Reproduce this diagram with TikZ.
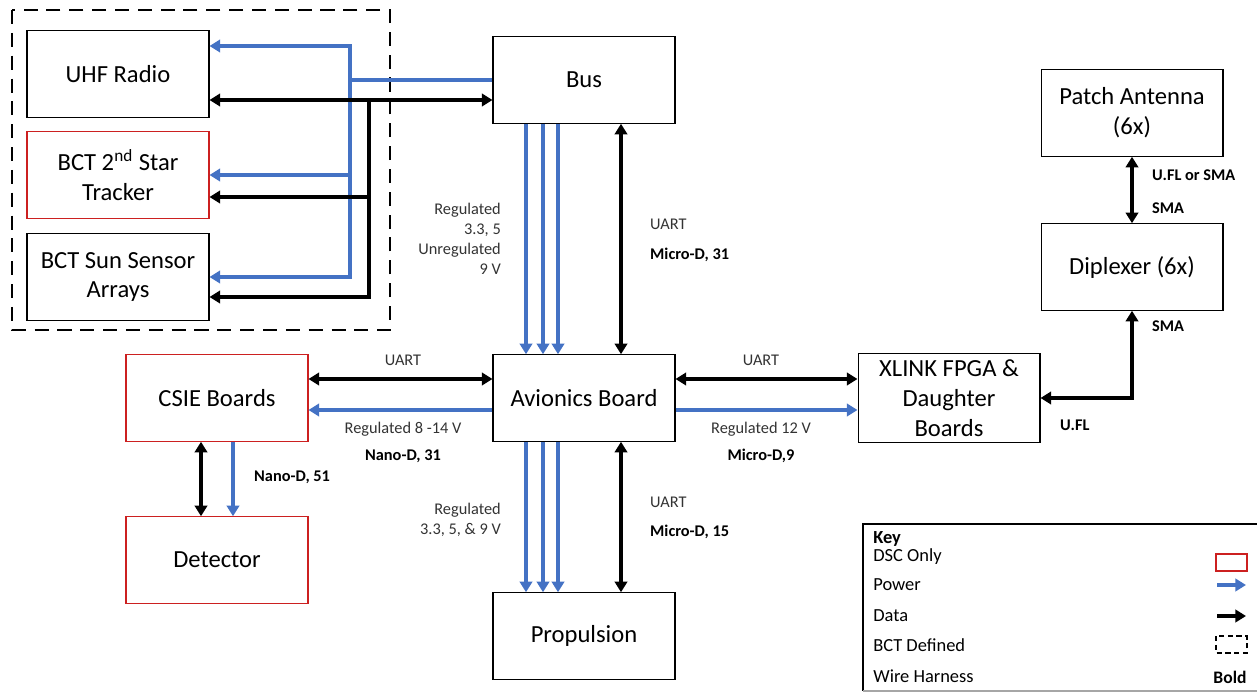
\documentclass[tikz,border=0pt]{standalone}
\usepackage{fontspec}
\setmainfont{Carlito}
\usetikzlibrary{arrows.meta,calc}

\definecolor{pwrblue}{RGB}{68,114,196}
\definecolor{dscred}{RGB}{204,32,32}

\begin{document}
\begin{tikzpicture}[x=0.02cm, y=-0.02cm,
		block/.style = {draw, line width=0.6pt, minimum width=3.64cm, minimum height=1.73cm, align=center, font=\fontsize{14}{17}\selectfont},
		dscblock/.style = {block, draw=dscred},
		pwr/.style = {line width=1.8pt, color=pwrblue},
		dat/.style = {line width=2.2pt},
		tip/.tip = {Triangle[length=6pt, width=7pt]},
		lbl/.style = {font=\fontsize{9.3}{11.3}\selectfont, color=black!80},
		blbl/.style = {font=\fontsize{9.3}{11.3}\selectfont\bfseries}]
		\useasboundingbox (0,0) rectangle (1257,692);

		% BCT defined group
		\node [block] (uhf) at (118,74) {UHF Radio};
		\node [dscblock] (star) at (118,175) {BCT 2\textsuperscript{nd} Star\\Tracker};
		\node [block] (sun) at (118,277) {BCT Sun Sensor\\Arrays};
		\draw [line width=1.2pt, dash pattern=on 8pt off 5pt] (12,10) rectangle (390,330);

		% center column
		\node [block] (bus) at (584,80) {Bus};
		\node [block] (avi) at (584,398) {Avionics Board};
		\node [block] (prop) at (584,636) {Propulsion};

		% left side
		\node [dscblock] (csie) at (217,398) {CSIE Boards};
		\node [dscblock] (det) at (217,560) {Detector};

		% right side
		\node [block] (xlink) at (949,398) {XLINK FPGA \&\\Daughter\\Boards};
		\node [block] (patch) at (1132,113) {Patch Antenna\\(6x)};
		\node [block] (dipl) at (1132,267) {Diplexer (6x)};

		% bus to BCT parts
		\coordinate (pj) at (350,80);
		\coordinate (dj) at (369,100);
		\draw [pwr, -tip] (bus.west) -- (pj) |- ($(uhf.east)+(0,-28)$);
		\draw [pwr, -tip] (pj) |- (star.east);
		\draw [pwr, -tip] (pj) |- (sun.east);
		\draw [dat, tip-tip] ($(uhf.east)+(0,26)$) -- ($(bus.west)+(0,20)$);
		\draw [dat, -tip] (dj) |- ($(star.east)+(0,22)$);
		\draw [dat, -tip] (dj) |- ($(sun.east)+(0,20)$);

		% bus to avionics
		\foreach \dx in {-58,-41,-26}
			\draw [pwr, -tip] ($(bus.south)+(\dx,0)$) coordinate (p) -- (p |- avi.north);
		\draw [dat, tip-tip] ($(bus.south)+(37,0)$) coordinate (p) -- (p |- avi.north);
		\node [lbl, anchor=east, align=right] (busreg) at (507,239) {Regulated\\3.3, 5\\Unregulated\\9 V};
		\node [lbl, anchor=west] (busuart) at (644,224) {UART};
		\node [blbl, anchor=west] (busconn) at (644,255) {Micro-D, 31};

		% avionics to propulsion
		\foreach \dx in {-58,-41,-26}
			\draw [pwr, -tip] ($(avi.south)+(\dx,0)$) coordinate (p) -- (p |- prop.north);
		\draw [dat, tip-tip] ($(avi.south)+(37,0)$) coordinate (p) -- (p |- prop.north);
		\node [lbl, anchor=east, align=right] (propreg) at (507,520) {Regulated\\3.3, 5, \& 9 V};
		\node [lbl, anchor=west] (propuart) at (644,502) {UART};
		\node [blbl, anchor=west] (propconn) at (644,532) {Micro-D, 15};

		% avionics to CSIE
		\draw [dat, tip-tip] ($(csie.east)+(0,-19)$) -- ($(avi.west)+(0,-19)$);
		\draw [pwr, -tip] ($(avi.west)+(0,12)$) -- ($(csie.east)+(0,12)$);
		\node [lbl] (csieuart) at (403,360) {UART};
		\node [lbl] (csiereg) at (403,429) {Regulated 8 -14 V};
		\node [blbl] (csieconn) at (403,456) {Nano-D, 31};

		% avionics to XLINK
		\draw [dat, tip-tip] ($(avi.east)+(0,-19)$) -- ($(xlink.west)+(0,-19)$);
		\draw [pwr, -tip] ($(avi.east)+(0,12)$) -- ($(xlink.west)+(0,12)$);
		\node [lbl] (xuart) at (761,360) {UART};
		\node [lbl] (xreg) at (761,429) {Regulated 12 V};
		\node [blbl] (xconn) at (761,456) {Micro-D,9};

		% CSIE to detector
		\draw [dat, tip-tip] ($(csie.south)+(-16,0)$) coordinate (p) -- (p |- det.north);
		\draw [pwr, -tip] ($(csie.south)+(16,0)$) coordinate (p) -- (p |- det.north);
		\node [blbl, anchor=west] (detconn) at (248,477) {Nano-D, 51};

		% RF chain
		\draw [dat, tip-tip] (patch.south) -- (dipl.north);
		\draw [dat, tip-tip] (dipl.south) |- (xlink.east);
		\node [blbl, anchor=west] (ufsma) at (1146,175) {U.FL or SMA};
		\node [blbl, anchor=west] (sma1) at (1146,208) {SMA};
		\node [blbl, anchor=west] (sma2) at (1146,326) {SMA};
		\node [blbl, anchor=west] (ufl) at (1054,425) {U.FL};

		% key (open on the right, cut by the page edge)
		\draw [line width=0.8pt] (1265,524) -- (863,524) -- (863,691);
		\draw [line width=0.6pt, color=black!35] (863,691) -- (1265,691);
		\begin{scope}[every node/.style={anchor=west, inner sep=0pt, font=\fontsize{10.5}{12}\selectfont}]
			\node (keyhead) at (873,539) {\bfseries Key};
			\node (keydsc) at (873,557) {DSC Only};
			\node (keypwr) at (873,585) {Power};
			\node (keydat) at (873,616) {Data};
			\node (keybct) at (873,645) {BCT Defined};
			\node (keywire) at (873,676) {Wire Harness};
		\end{scope}
		\draw [draw=dscred, line width=0.8pt] (1216,554) rectangle (1247,571);
		\coordinate (kp1) at (1217,585);
		\coordinate (kp2) at (1246,585);
		\draw [pwr, -tip] (kp1) -- (kp2);
		\coordinate (kd1) at (1217,616);
		\coordinate (kd2) at (1246,616);
		\draw [dat, -tip] (kd1) -- (kd2);
		\draw [line width=0.8pt, dash pattern=on 3pt off 2pt] (1216,636) rectangle (1247,653);
		\node [blbl, font=\fontsize{10}{12}\selectfont\bfseries] (keybold) at (1230,677) {Bold};
	\end{tikzpicture}
\end{document}
